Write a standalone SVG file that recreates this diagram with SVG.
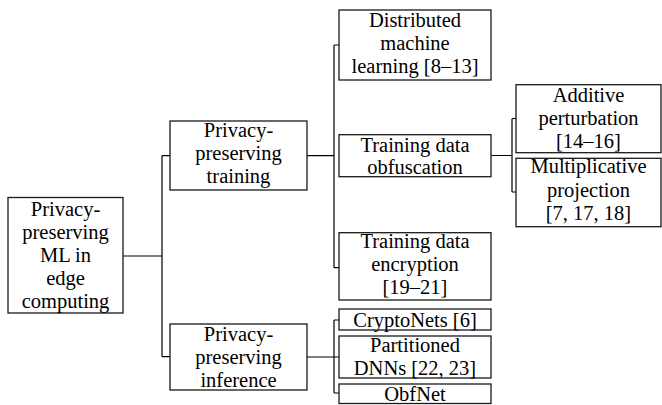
<svg xmlns="http://www.w3.org/2000/svg" width="662" height="405" viewBox="0 0 662 405">
  <style>
    .box { fill: #ffffff; stroke: #1a1a1a; stroke-width: 1.3; }
    .lbl { font-family: "Liberation Serif", "Times New Roman", serif; font-size: 20.5px; fill: #000000; text-anchor: middle; }
    .wire { fill: none; stroke: #000000; stroke-width: 1.2; }
  </style>

  <!-- tree connectors -->
  <g id="connectors">
    <path class="wire" d="M123,256 H162 M162,155.7 V356.7 M162,155.7 H170 M162,356.7 H170"/>
    <path class="wire" d="M307,155.7 H334 M334,45 V267.7 M334,45 H339 M334,267.7 H339"/>
    <path class="wire" d="M491,155.5 H512 M512,118.5 V192 M512,118.5 H516 M512,192 H516"/>
    <path class="wire" d="M307,357 H339 M334,320 V393 M334,320 H339 M334,393 H339"/>
  </g>

  <!-- root -->
  <g id="root">
    <rect class="box" x="8" y="197.5" width="115" height="115.5"/>
    <text class="lbl" x="65.5" y="215.7">Privacy-</text>
    <text class="lbl" x="65.5" y="238.7">preserving</text>
    <text class="lbl" x="65.5" y="261.7">ML in</text>
    <text class="lbl" x="65.5" y="284.7">edge</text>
    <text class="lbl" x="65.5" y="307.7">computing</text>
  </g>

  <!-- second level -->
  <g id="pp-training">
    <rect class="box" x="170" y="121" width="137" height="69"/>
    <text class="lbl" x="238.5" y="137">Privacy-</text>
    <text class="lbl" x="238.5" y="160">preserving</text>
    <text class="lbl" x="238.5" y="183">training</text>
  </g>

  <g id="pp-inference">
    <rect class="box" x="170" y="324" width="137" height="66"/>
    <text class="lbl" x="238.5" y="340.5">Privacy-</text>
    <text class="lbl" x="238.5" y="363.5">preserving</text>
    <text class="lbl" x="238.5" y="386.5">inference</text>
  </g>

  <!-- training branches -->
  <g id="distributed-ml">
    <rect class="box" x="339" y="10" width="152" height="70"/>
    <text class="lbl" x="415" y="26.7">Distributed</text>
    <text class="lbl" x="415" y="50">machine</text>
    <text class="lbl" x="415" y="73.3">learning [8–13]</text>
  </g>

  <g id="data-obfuscation">
    <rect class="box" x="339" y="134.7" width="152" height="42"/>
    <text class="lbl" x="415" y="151.5">Training data</text>
    <text class="lbl" x="415" y="174.3">obfuscation</text>
  </g>

  <g id="data-encryption">
    <rect class="box" x="339" y="232.7" width="152" height="67.3"/>
    <text class="lbl" x="415" y="247.5">Training data</text>
    <text class="lbl" x="415" y="270.5">encryption</text>
    <text class="lbl" x="415" y="294">[19–21]</text>
  </g>

  <!-- obfuscation methods -->
  <g id="additive">
    <rect class="box" x="516" y="84.7" width="145" height="68"/>
    <text class="lbl" x="588.5" y="101.7">Additive</text>
    <text class="lbl" x="588.5" y="125">perturbation</text>
    <text class="lbl" x="588.5" y="148.3">[14–16]</text>
  </g>

  <g id="multiplicative">
    <rect class="box" x="516" y="158.3" width="145" height="68.4"/>
    <text class="lbl" x="588.5" y="173.3">Multiplicative</text>
    <text class="lbl" x="588.5" y="196.7">projection</text>
    <text class="lbl" x="588.5" y="220">[7, 17, 18]</text>
  </g>

  <!-- inference branches -->
  <g id="cryptonets">
    <rect class="box" x="339" y="309" width="152" height="21"/>
    <text class="lbl" x="415" y="326.5">CryptoNets [6]</text>
  </g>

  <g id="partitioned-dnns">
    <rect class="box" x="339" y="336" width="152" height="42"/>
    <text class="lbl" x="415" y="351.7">Partitioned</text>
    <text class="lbl" x="415" y="374.5">DNNs [22, 23]</text>
  </g>

  <g id="obfnet">
    <rect class="box" x="339" y="384" width="152" height="19.5"/>
    <text class="lbl" x="415" y="400.5">ObfNet</text>
  </g>
</svg>
